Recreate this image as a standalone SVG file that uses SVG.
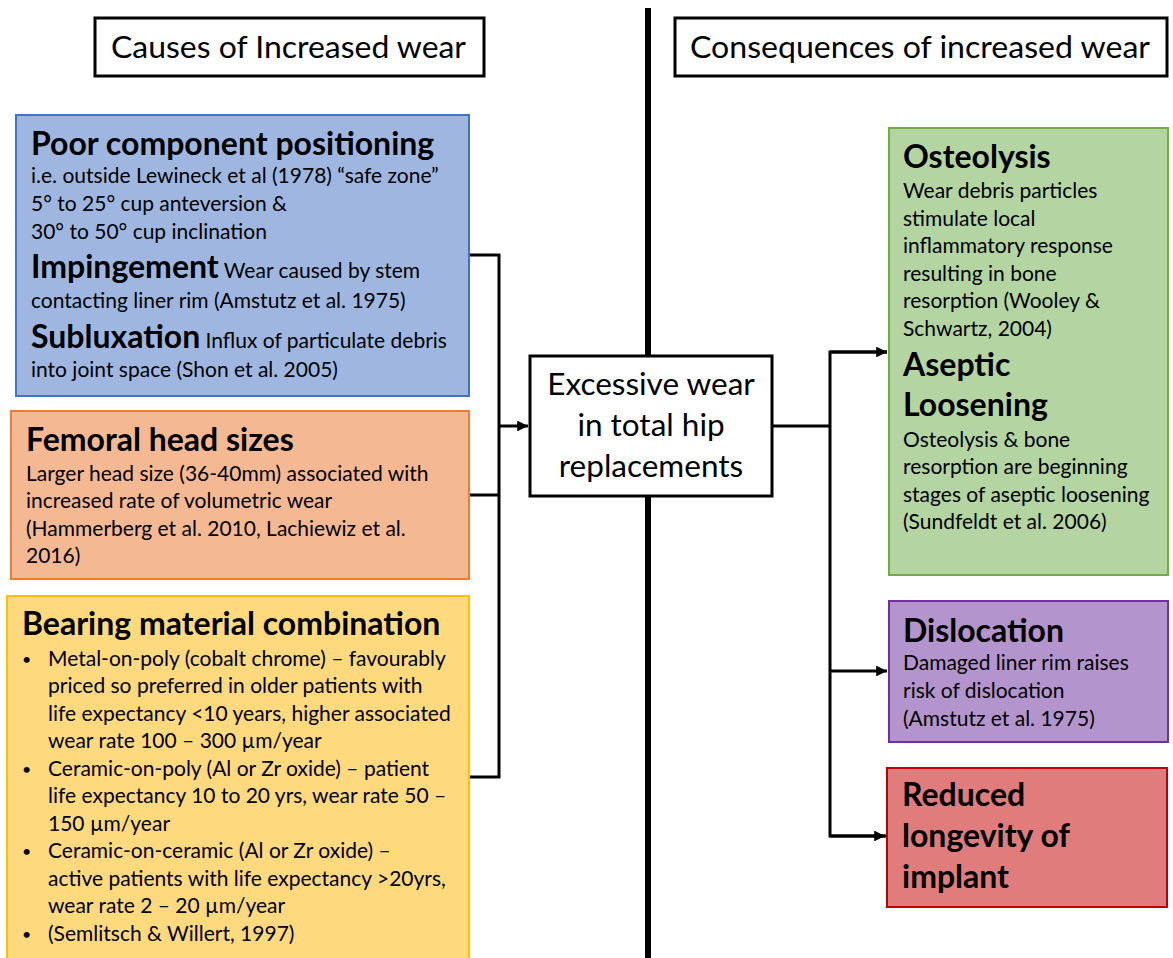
<svg xmlns="http://www.w3.org/2000/svg" width="1173" height="958" viewBox="0 0 1173 958">
<defs>
<marker id="arr" viewBox="0 0 10 10" refX="10" refY="5" markerWidth="4" markerHeight="3.6" orient="auto" markerUnits="strokeWidth">
<path d="M0,0 L10,5 L0,10 z" fill="#000"/>
</marker>
</defs>
<style>
text{font-family:Lato,"Open Sans","Liberation Sans",sans-serif;fill:#000}
.h{font-size:30px}
.t{font-size:32px;font-weight:bold}
.b{font-size:21px}
.d{font-size:16px}
.c{font-size:31.5px}
.hdr{fill:#fff;stroke:#000;stroke-width:3}
.ln{fill:none;stroke:#000;stroke-width:3}
</style>
<rect width="1173" height="958" fill="#fff"/>
<line x1="648" y1="8" x2="648" y2="958" stroke="#000" stroke-width="6"/>
<g id="hdr-causes">
<rect class="hdr" x="95" y="18" width="389" height="58"/>
<text class="h" x="111" y="58" textLength="355" lengthAdjust="spacingAndGlyphs">Causes of Increased wear</text>
</g>
<g id="hdr-consequences">
<rect class="hdr" x="675" y="18" width="492" height="58"/>
<text class="h" x="690" y="58" textLength="460" lengthAdjust="spacingAndGlyphs">Consequences of increased wear</text>
</g>
<g id="connectors">
<polyline class="ln" points="469,255 499,255 499,777 469,777"/>
<line class="ln" x1="469" y1="495" x2="499" y2="495"/>
<line class="ln" x1="499" y1="426" x2="528" y2="426" marker-end="url(#arr)"/>
<line class="ln" x1="772" y1="426" x2="830" y2="426"/>
<polyline class="ln" points="887,352 830,352 830,836 886,836" fill="none"/>
<line class="ln" x1="830" y1="352" x2="887" y2="352" marker-end="url(#arr)"/>
<line class="ln" x1="830" y1="671" x2="887" y2="671" marker-end="url(#arr)"/>
<line class="ln" x1="830" y1="836" x2="885" y2="836" marker-end="url(#arr)"/>
</g>
<g id="blue">
<rect x="16" y="115" width="453" height="281" fill="#9fb7e0" stroke="#4472c4" stroke-width="2"/>
<text class="t" x="31" y="155">Poor component positioning</text>
<text class="b" x="31" y="183">i.e. outside Lewineck et al (1978) “safe zone”</text>
<text class="b" x="31" y="211">5° to 25° cup anteversion &amp;</text>
<text class="b" x="31" y="239">30° to 50° cup inclination</text>
<text x="31" y="278"><tspan class="t">Impingement</tspan><tspan class="b"> Wear caused by stem</tspan></text>
<text class="b" x="31" y="308">contacting liner rim (Amstutz et al. 1975)</text>
<text x="31" y="348"><tspan class="t">Subluxation</tspan><tspan class="b"> Influx of particulate debris</tspan></text>
<text class="b" x="31" y="377">into joint space (Shon et al. 2005)</text>
</g>
<g id="orange">
<rect x="11" y="411" width="458" height="168" fill="#f4b993" stroke="#ed7d31" stroke-width="2"/>
<text class="t" x="26" y="451">Femoral head sizes</text>
<text class="b" x="26" y="481">Larger head size (36-40mm) associated with</text>
<text class="b" x="26" y="508">increased rate of volumetric wear</text>
<text class="b" x="26" y="536">(Hammerberg et al. 2010, Lachiewiz et al.</text>
<text class="b" x="26" y="563">2016)</text>
</g>
<g id="yellow">
<rect x="7" y="596" width="462" height="370" fill="#ffd97e" stroke="#ffc000" stroke-width="2"/>
<text class="t" x="22" y="635">Bearing material combination</text>
<text class="d" x="22" y="665">•</text>
<text class="b" x="48" y="666">Metal-on-poly (cobalt chrome) – favourably</text>
<text class="b" x="48" y="693">priced so preferred in older patients with</text>
<text class="b" x="48" y="721">life expectancy &lt;10 years, higher associated</text>
<text class="b" x="48" y="748">wear rate 100 – 300 µm/year</text>
<text class="d" x="22" y="775">•</text>
<text class="b" x="48" y="776">Ceramic-on-poly (Al or Zr oxide) – patient</text>
<text class="b" x="48" y="803">life expectancy 10 to 20 yrs, wear rate 50 –</text>
<text class="b" x="48" y="831">150 µm/year</text>
<text class="d" x="22" y="857">•</text>
<text class="b" x="48" y="858">Ceramic-on-ceramic (Al or Zr oxide) –</text>
<text class="b" x="48" y="886">active patients with life expectancy &gt;20yrs,</text>
<text class="b" x="48" y="913">wear rate 2 – 20 µm/year</text>
<text class="d" x="22" y="940">•</text>
<text class="b" x="48" y="941">(Semlitsch &amp; Willert, 1997)</text>
</g>
<g id="center">
<rect x="530" y="356" width="242" height="140" fill="#fff" stroke="#000" stroke-width="3"/>
<text class="c" x="651" y="395" text-anchor="middle">Excessive wear</text>
<text class="c" x="651" y="436" text-anchor="middle">in total hip</text>
<text class="c" x="651" y="477" text-anchor="middle">replacements</text>
</g>
<g id="green">
<rect x="889" y="128" width="279" height="447" fill="#b4d5a1" stroke="#70ad47" stroke-width="2"/>
<text class="t" x="903" y="168">Osteolysis</text>
<text class="b" x="903" y="198">Wear debris particles</text>
<text class="b" x="903" y="226">stimulate local</text>
<text class="b" x="903" y="253">inflammatory response</text>
<text class="b" x="903" y="281">resulting in bone</text>
<text class="b" x="903" y="308">resorption (Wooley &amp;</text>
<text class="b" x="903" y="336">Schwartz, 2004)</text>
<text class="t" x="903" y="376">Aseptic</text>
<text class="t" x="903" y="416">Loosening</text>
<text class="b" x="903" y="447">Osteolysis &amp; bone</text>
<text class="b" x="903" y="474">resorption are beginning</text>
<text class="b" x="903" y="502">stages of aseptic loosening</text>
<text class="b" x="903" y="529">(Sundfeldt et al. 2006)</text>
</g>
<g id="purple">
<rect x="889" y="601" width="279" height="141" fill="#b394cc" stroke="#7030a0" stroke-width="2"/>
<text class="t" x="903" y="642">Dislocation</text>
<text class="b" x="903" y="670">Damaged liner rim raises</text>
<text class="b" x="903" y="698">risk of dislocation</text>
<text class="b" x="903" y="726">(Amstutz et al. 1975)</text>
</g>
<g id="red">
<rect x="887" y="768" width="280" height="139" fill="#e07c7c" stroke="#c00000" stroke-width="2"/>
<text class="t" x="902" y="806">Reduced</text>
<text class="t" x="902" y="847">longevity of</text>
<text class="t" x="902" y="888">implant</text>
</g>
</svg>
